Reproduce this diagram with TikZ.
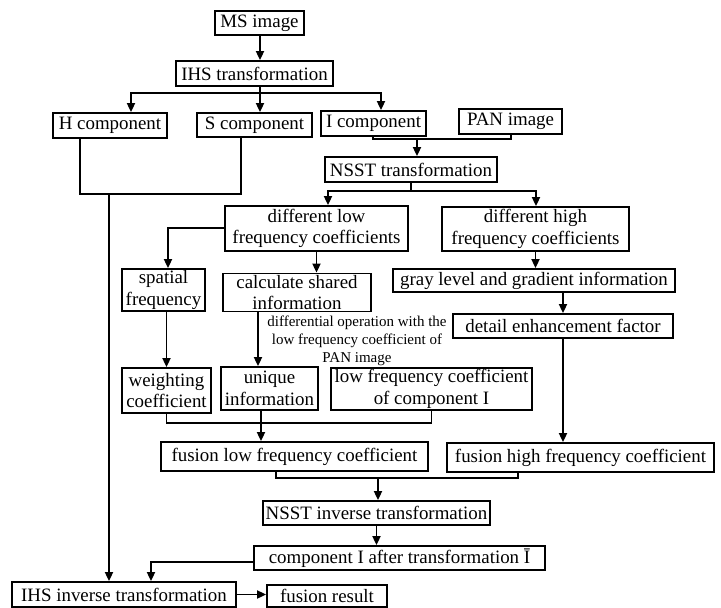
\documentclass[tikz,border=0pt]{standalone}
\usepackage{fontspec}
\setmainfont{Liberation Serif}
\usetikzlibrary{arrows.meta}

\begin{document}
\begin{tikzpicture}[x=1pt,y=-1pt,line width=1.8pt,
  box/.style={draw,inner sep=0pt,align=center,font=\fontsize{18.9}{21.5}\selectfont},
  arr/.style={-{Triangle[length=9pt,width=8pt]}}]
\useasboundingbox (0,0) rectangle (721,608);
% boxes
\node[box,minimum width=89,minimum height=24] (ms) at (259.5,23) {MS image};
\node[box,minimum width=157,minimum height=25] (ihs) at (254.5,73.5) {IHS transformation};
\node[box,minimum width=114,minimum height=25] (hc) at (110,125.5) {H component};
\node[box,minimum width=115,minimum height=24] (sc) at (254.5,125) {S component};
\node[box,minimum width=105,minimum height=25] (ic) at (373.5,123.5) {I component};
\node[box,minimum width=103,minimum height=25] (pan) at (510.5,121.5) {PAN image};
\node[box,minimum width=172,minimum height=25] (nsst) at (411,169.5) {NSST transformation};
\node[box,minimum width=183,minimum height=45] (low) at (316.5,228.5) {different low\\frequency coefficients};
\node[box,minimum width=187,minimum height=44] (high) at (535.5,229) {different high\\frequency coefficients};
\node[box,minimum width=83,minimum height=42] (spat) at (163.5,290) {spatial\\frequency};
\node[box,minimum width=148,minimum height=38] (calc) at (297,292.5) {calculate shared\\information};
\node[box,minimum width=282,minimum height=23] (gray) at (534,280.5) {gray level and gradient information};
\node[box,minimum width=220,minimum height=24] (detail) at (563,326) {detail enhancement factor};
\node[align=center,inner sep=0pt,font=\fontsize{15}{18}\selectfont] (diff) at (357,341) {differential operation with the\\low frequency coefficient of\\PAN image};
\node[box,minimum width=89,minimum height=45] (weight) at (166.5,390.5) {weighting\\coefficient};
\node[box,minimum width=97,minimum height=43] (uniq) at (269.5,388.5) {unique\\information};
\node[box,minimum width=201,minimum height=42] (lowi) at (431.5,389) {low frequency coefficient\\of component I};
\node[box,minimum width=267,minimum height=29] (flow) at (294.5,456.5) {fusion low frequency coefficient};
\node[box,minimum width=267,minimum height=29] (fhigh) at (580.5,457.5) {fusion high frequency coefficient};
\node[box,minimum width=227,minimum height=24] (inv) at (376.5,513) {NSST inverse transformation};
\node[box,minimum width=291,minimum height=24] (iafter) at (399.5,558) {component I after transformation Ī};
\node[box,minimum width=224,minimum height=25] (ihsinv) at (124,594.5) {IHS inverse transformation};
\node[box,minimum width=120,minimum height=22] (res) at (327,596) {fusion result};
% corners and joins
\coordinate (f1) at (260,93);
\coordinate (f1h) at (131,93);
\coordinate (f1i) at (381,93);
\coordinate (j1) at (417,139);
\coordinate (j1i) at (373,139);
\coordinate (j1p) at (511,139);
\coordinate (f2) at (411,191);
\coordinate (f2l) at (328,191);
\coordinate (f2h) at (536,191);
\coordinate (j2) at (109,194);
\coordinate (j2h) at (80,194);
\coordinate (j2s) at (241,194);
\coordinate (c1) at (168,228);
\coordinate (v2) at (258,311);
\coordinate (v3) at (261,410);
\coordinate (j4) at (378,478);
\coordinate (j4l) at (276,478);
\coordinate (j4h) at (518,478);
\coordinate (c3) at (151,562);
% connectors
\draw[arr] (ms.south -| f1) -- (ihs.north -| f1);
\draw (ihs.south -| f1) -- (f1);
\draw[arr] (f1) -- (sc.north -| f1);
\draw[arr] (f1) -- (f1h) -- (f1h |- hc.north);
\draw[arr] (f1) -- (f1i) -- (f1i |- ic.north);
\draw (j1i |- ic.south) -- (j1i) -- (j1p) -- (j1p |- pan.south);
\draw[arr] (j1) -- (j1 |- nsst.north);
\draw (nsst.south -| f2) -- (f2);
\draw[arr] (f2) -- (f2l) -- (f2l |- low.north);
\draw[arr] (f2) -- (f2h) -- (f2h |- high.north);
\draw (j2h |- hc.south) -- (j2h) -- (j2s) -- (j2s |- sc.south);
\draw[arr] (j2) -- (j2 |- ihsinv.north);
\draw[arr] (low.west |- c1) -- (c1) -- (c1 |- spat.north);
\draw[arr] (low.south) -- (low.south |- calc.north);
\draw[arr] (high.south) -- (high.south |- gray.north);
\draw[arr] (detail.north |- gray.south) -- (detail.north);
\draw[arr] (detail.south) -- (detail.south |- fhigh.north);
\draw[arr] (weight.north |- spat.south) -- (weight.north);
\draw[arr] (v2) -- (v2 |- uniq.north);
\draw (weight.south) -- ++(0,9) -| (lowi.south);
\draw[arr] (v3) -- (v3 |- flow.north);
\draw (j4l |- flow.south) -- (j4l) -- (j4h) -- (j4h |- fhigh.south);
\draw[arr] (j4) -- (j4 |- inv.north);
\draw[arr] (inv.south) -- (inv.south |- iafter.north);
\draw[arr] (iafter.west |- c3) -- (c3) -- (c3 |- ihsinv.north);
\draw[arr] (ihsinv.east) -- (ihsinv.east -| res.west);
\end{tikzpicture}
\end{document}
